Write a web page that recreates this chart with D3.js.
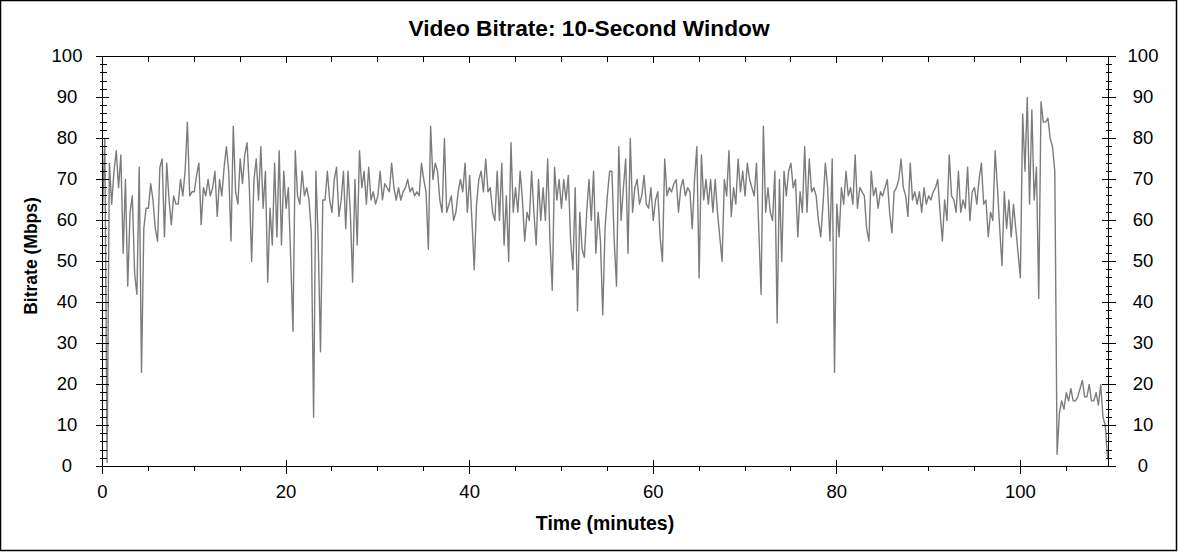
<!DOCTYPE html>
<html>
<head>
<meta charset="utf-8">
<script src="https://cdn.jsdelivr.net/npm/d3@7"></script>
<style>
  body { margin: 0; background: #fff; }
  svg { display: block; font-family: Arial, "Liberation Sans", sans-serif; }
</style>
</head>
<body>
<svg id="chart" width="1178" height="552"></svg>
<script>
// bitrate samples (Mbps), one every quarter minute
var sampleStep = 0.25;
var rate00 = [62,80,1,74,64,72,77,68,76,52,70,44,62,66,47,42,73,23,58,63,63,69,65,58,55,73,75,56,74,65,59,66,64,64,70,66,72,84,66,67];
var rate10 = [67,71,74,59,68,66,70,66,68,72,61,70,66,73,78,72,55,83,67,64,75,69,76,79,68,50,70,75,65,78,63,72,45,63,54,74,56,77,54,72];
var rate20 = [63,68,51,33,77,66,64,72,66,68,65,57,12,72,55,28,65,65,72,65,62,70,73,61,65,72,58,72,62,45,70,54,77,68,72,64,73,65,67,64];
var rate30 = [66,72,65,69,68,67,74,68,65,68,65,67,68,70,67,68,66,67,66,74,70,67,53,83,70,74,72,65,62,80,62,64,66,60,62,67,70,67,74,62];
var rate40 = [71,60,48,64,70,72,67,75,67,68,62,60,72,60,74,54,66,50,79,62,68,62,72,65,55,62,60,72,62,54,70,60,68,60,75,55,43,73,65,70];
var rate50 = [63,70,65,71,55,48,68,38,62,53,51,62,70,60,72,52,62,55,37,58,66,72,72,55,44,78,60,68,75,52,80,62,68,70,64,66,71,64,63,68];
var rate60 = [60,65,67,56,50,75,66,68,67,69,70,62,68,70,66,68,67,58,70,78,46,76,65,70,64,70,62,70,62,56,50,70,66,77,61,68,64,75,67,72];
var rate70 = [66,74,70,68,66,74,58,42,83,62,68,62,60,72,35,70,50,72,66,72,74,68,70,56,67,62,78,62,75,67,68,66,60,56,64,74,68,55,75,23];
var rate80 = [64,56,68,64,72,66,68,64,76,63,68,67,66,58,55,72,66,68,63,67,66,68,70,62,57,67,68,70,75,68,66,61,74,65,67,64,67,62,68,64];
var rate90 = [66,65,67,68,70,62,55,65,60,76,66,65,62,72,62,65,63,73,60,67,68,64,70,74,64,65,56,62,60,77,68,58,49,67,58,65,56,64,58,52];
var rate100 = [46,86,72,90,64,87,65,73,41,89,84,84,85,80,78,72,3,13,16,14,18,16,19,16,16,17,19,21,17,17,20,16,16,18,15,20,12,10,2];

var xMajor = [0, 20, 40, 60, 80, 100];
var yMajor = [0, 10, 20, 30, 40, 50, 60, 70, 80, 90, 100];

var bitrate = [].concat(rate00, rate10, rate20, rate30, rate40, rate50,
                        rate60, rate70, rate80, rate90, rate100);
var points = bitrate.map(function(v, i) { return {t: i * sampleStep, v: v}; });

var svg = d3.select("#chart");

svg.append("rect")
    .attr("x", 0.5).attr("y", 0.5)
    .attr("width", 1176).attr("height", 550)
    .attr("fill", "#fff").attr("stroke", "#000").attr("stroke-width", 1.5);

var x = d3.scaleLinear().domain([0, 109.6]).range([102.5, 1108.5]);
var y = d3.scaleLinear().domain([0, 100]).range([466.5, 56.5]);

// the data line
var line = d3.line()
    .x(function(d) { return x(d.t); })
    .y(function(d) { return y(d.v); });

svg.append("path")
    .datum(points)
    .attr("d", line)
    .attr("fill", "none")
    .attr("stroke", "#7c7c7c")
    .attr("stroke-width", 1.4)
    .attr("stroke-linejoin", "round");

// frame
svg.append("rect")
    .attr("x", x(0)).attr("y", y(100))
    .attr("width", x(109.6) - x(0)).attr("height", y(0) - y(100))
    .attr("fill", "none").attr("stroke", "#000").attr("stroke-width", 1);

var ticks = svg.append("g").attr("stroke", "#000").attr("stroke-width", 1)
    .attr("shape-rendering", "crispEdges");

// y ticks, left and right
var yMinor = d3.range(0, 101, 2).filter(function(v) { return v % 10 != 0; });
yMajor.forEach(function(v) {
  ticks.append("line").attr("x1", x(0) - 6.5).attr("x2", x(0) + 6.5)
      .attr("y1", y(v)).attr("y2", y(v));
  ticks.append("line").attr("x1", x(109.6) - 6.5).attr("x2", x(109.6) + 7)
      .attr("y1", y(v)).attr("y2", y(v));
});
yMinor.forEach(function(v) {
  ticks.append("line").attr("x1", x(0) - 2.5).attr("x2", x(0) + 4)
      .attr("y1", y(v)).attr("y2", y(v));
  ticks.append("line").attr("x1", x(109.6) - 3).attr("x2", x(109.6) + 3.5)
      .attr("y1", y(v)).attr("y2", y(v));
});

// x ticks, bottom and top
var xMinor = d3.range(5, 109, 5).filter(function(v) { return v % 20 != 0; });
xMajor.forEach(function(v) {
  ticks.append("line").attr("x1", x(v)).attr("x2", x(v))
      .attr("y1", y(0) - 7).attr("y2", y(0) + 7);
  ticks.append("line").attr("x1", x(v)).attr("x2", x(v))
      .attr("y1", y(100)).attr("y2", y(100) + 6.5);
});
xMinor.forEach(function(v) {
  ticks.append("line").attr("x1", x(v)).attr("x2", x(v))
      .attr("y1", y(0)).attr("y2", y(0) + 4);
  ticks.append("line").attr("x1", x(v)).attr("x2", x(v))
      .attr("y1", y(100)).attr("y2", y(100) + 5);
});

// tick labels
var labels = svg.append("g").attr("font-size", "18.5px").attr("fill", "#000")
    .attr("text-anchor", "middle");
yMajor.forEach(function(v) {
  labels.append("text").attr("x", 67).attr("y", y(v) + 5.5).text(v);
  labels.append("text").attr("x", 1143).attr("y", y(v) + 5.5).text(v);
});
xMajor.forEach(function(v) {
  labels.append("text").attr("x", x(v)).attr("y", 498).text(v);
});

// titles
svg.append("text")
    .attr("x", 589).attr("y", 36)
    .attr("text-anchor", "middle")
    .attr("font-size", "22.7px").attr("font-weight", "bold")
    .text("Video Bitrate: 10-Second Window");

svg.append("text")
    .attr("x", 605).attr("y", 530)
    .attr("text-anchor", "middle")
    .attr("font-size", "19.5px").attr("font-weight", "bold")
    .text("Time (minutes)");

svg.append("text")
    .attr("transform", "translate(37,256) rotate(-90)")
    .attr("text-anchor", "middle")
    .attr("font-size", "17.5px").attr("font-weight", "bold")
    .text("Bitrate (Mbps)");
</script>
</body>
</html>
